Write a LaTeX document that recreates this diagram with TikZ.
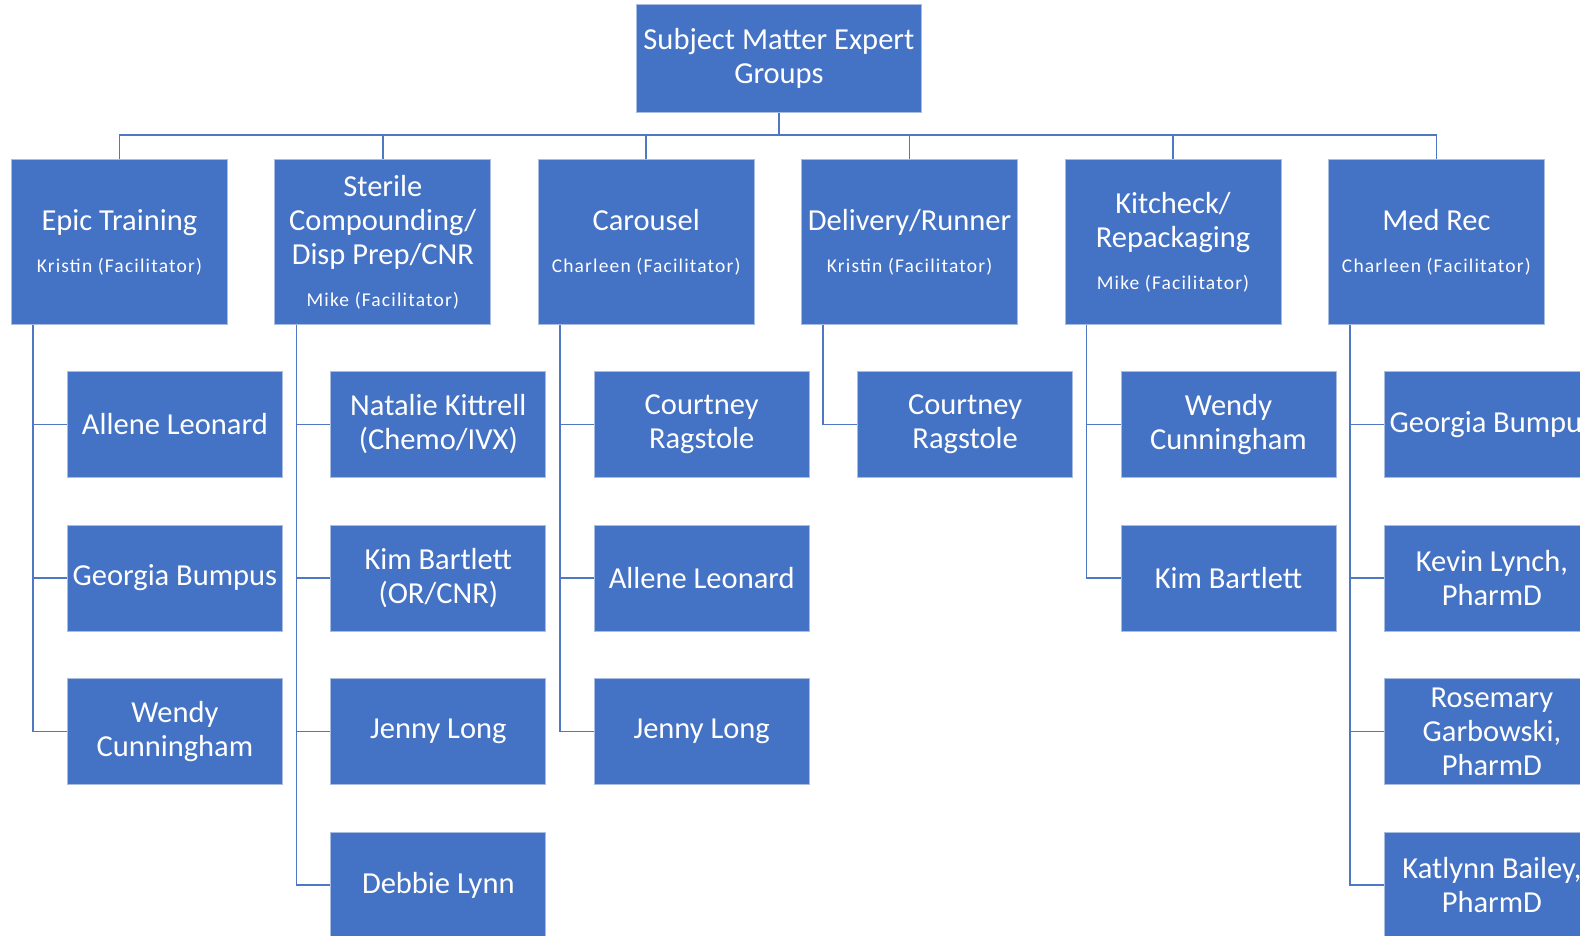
\documentclass[tikz,border=0pt]{standalone}
\usepackage{fontspec}
\setmainfont{Carlito}
\usetikzlibrary{calc}
\definecolor{boxblue}{HTML}{4472C4}
\definecolor{boxedge}{HTML}{A9BDE3}
\definecolor{linkblue}{HTML}{4F78C2}
\newfontfamily\subfamily[LetterSpace=6]{Carlito}
\newcommand{\subline}{\subfamily\fontsize{19.5}{23}\selectfont}
\begin{document}
\begin{tikzpicture}[x=1pt,y=-1pt,
  base/.style={rectangle, fill=boxblue, draw=boxedge, line width=0.8pt,
    inner sep=0pt, align=center, text=white, anchor=north west,
    font=\fontsize{30.5}{34}\selectfont},
  topbox/.style={base, minimum width=285pt, minimum height=108pt},
  grp/.style={base, minimum width=216pt, minimum height=165pt},
  member/.style={base, minimum width=215pt, minimum height=106pt},
  link/.style={draw=linkblue, line width=1.6pt}]
\useasboundingbox (0,0) rectangle (1580,936);

% top of the chart
\node[topbox] (root) at (636,4) {Subject Matter Expert\\Groups};

% groups
\node[grp] (g1) at (11,159)     {Epic Training\\[8pt]{\subline Kristin (Facilitator)}};
\node[grp] (g2) at (274.4,159)  {Sterile\\Compounding/\\Disp Prep/CNR\\[8pt]{\subline Mike (Facilitator)}};
\node[grp] (g3) at (537.8,159)  {Carousel\\[8pt]{\subline Charleen (Facilitator)}};
\node[grp] (g4) at (801.2,159)  {Delivery/Runner\\[8pt]{\subline Kristin (Facilitator)}};
\node[grp] (g5) at (1064.6,159) {Kitcheck/\\Repackaging\\[8pt]{\subline Mike (Facilitator)}};
\node[grp] (g6) at (1328,159)   {Med Rec\\[8pt]{\subline Charleen (Facilitator)}};

% bus from the top box to the groups
\coordinate (bus) at (0,135);
\draw[link] (root.south) -- (root.south |- bus);
\draw[link] (g1.north) -- (g1.north |- bus) -- (g6.north |- bus) -- (g6.north);
\foreach \g in {g2,g3,g4,g5} \draw[link] (\g.north) -- (\g.north |- bus);

% members
\node[member] (m11) at (67,371)    {Allene Leonard};
\node[member] (m12) at (67,524.5)  {Georgia Bumpus};
\node[member] (m13) at (67,678)    {Wendy\\Cunningham};

\node[member] (m21) at (330.4,371)   {Natalie Kittrell\\(Chemo/IVX)};
\node[member] (m22) at (330.4,524.5) {Kim Bartlett\\(OR/CNR)};
\node[member] (m23) at (330.4,678)   {Jenny Long};
\node[member] (m24) at (330.4,831.5) {Debbie Lynn};

\node[member] (m31) at (593.8,371)   {Courtney\\Ragstole};
\node[member] (m32) at (593.8,524.5) {Allene Leonard};
\node[member] (m33) at (593.8,678)   {Jenny Long};

\node[member] (m41) at (857.2,371)   {Courtney\\Ragstole};

\node[member] (m51) at (1120.6,371)   {Wendy\\Cunningham};
\node[member] (m52) at (1120.6,524.5) {Kim Bartlett};

\node[member] (m61) at (1384,371)   {Georgia Bumpus};
\node[member] (m62) at (1384,524.5) {Kevin Lynch,\\PharmD};
\node[member] (m63) at (1384,678)   {Rosemary\\Garbowski,\\PharmD};
\node[member] (m64) at (1384,831.5) {Katlynn Bailey,\\PharmD};

% trunks from each group down to its members
\foreach \g/\ms in {g1/{m11,m12,m13}, g2/{m21,m22,m23,m24}, g3/{m31,m32,m33},
                    g4/{m41}, g5/{m51,m52}, g6/{m61,m62,m63,m64}} {
  \coordinate (t-\g) at ($(\g.south west)+(22,0)$);
  \foreach \m in \ms \draw[link] (t-\g) |- (\m.west);
}
\end{tikzpicture}
\end{document}
